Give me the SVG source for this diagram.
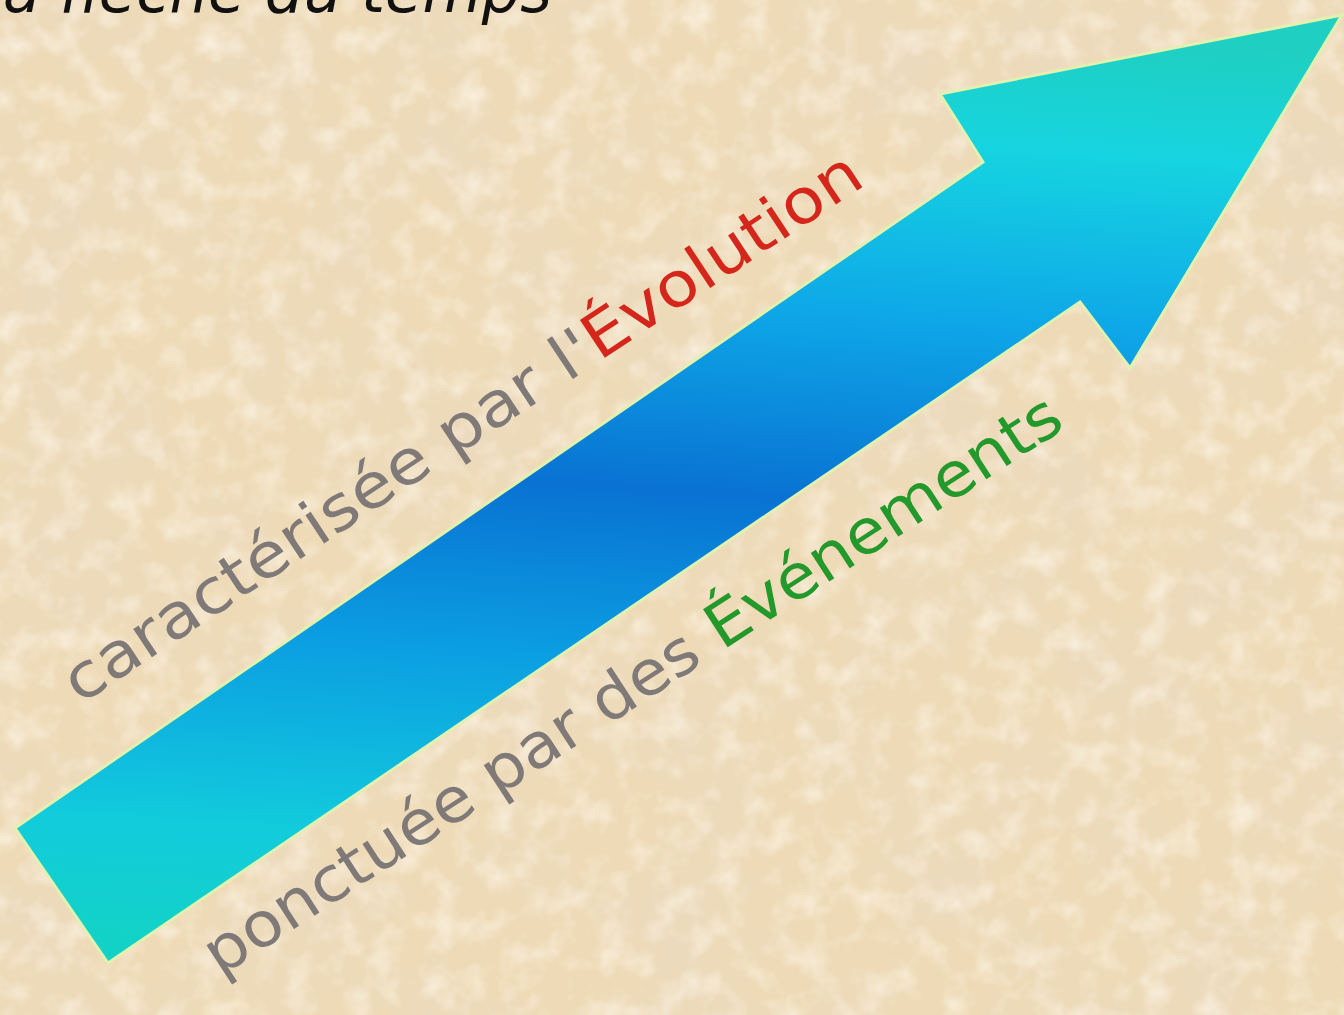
<svg xmlns="http://www.w3.org/2000/svg" width="1344" height="1015" viewBox="0 0 1344 1015">
  <defs>
    <filter id="tex" x="0" y="0" width="100%" height="100%" filterUnits="userSpaceOnUse">
      <feTurbulence type="fractalNoise" baseFrequency="0.008" numOctaves="4" seed="7" result="n"/>
      <feColorMatrix in="n" type="matrix" values="0 0 0 0 0.82  0 0 0 0 0.70  0 0 0 0 0.54  1.3 0 0 0 -0.5"/>
    </filter>
    <filter id="tex2" x="0" y="0" width="100%" height="100%" filterUnits="userSpaceOnUse">
      <feTurbulence type="fractalNoise" baseFrequency="0.035" numOctaves="3" seed="2" result="n"/>
      <feColorMatrix in="n" type="matrix" values="0 0 0 0 1  0 0 0 0 0.96  0 0 0 0 0.88  1.3 0 0 0 -0.58"/>
    </filter>
    <linearGradient id="arrowGrad" gradientUnits="userSpaceOnUse" x1="700" y1="15" x2="640" y2="965">
      <stop offset="0" stop-color="#1fd0c2"/>
      <stop offset="0.12" stop-color="#16d4e0"/>
      <stop offset="0.3" stop-color="#0ea8e8"/>
      <stop offset="0.5" stop-color="#0972d2"/>
      <stop offset="0.68" stop-color="#0b9ee2"/>
      <stop offset="0.88" stop-color="#12cbdc"/>
      <stop offset="1" stop-color="#12d2c8"/>
    </linearGradient>
    <style>
      .lbl { font-family: "DejaVu Sans", "Liberation Sans", sans-serif; font-size: 62px; }
      .grey { fill: #7f7a78; }
      .red { fill: #d5261c; }
      .green { fill: #22992a; }
      .title { font-family: "DejaVu Sans", "Liberation Sans", sans-serif; font-style: italic; font-size: 62px; fill: #111; }
    </style>
  </defs>

  <g id="background">
    <rect x="0" y="0" width="1344" height="1015" fill="#eedab6"/>
    <rect x="0" y="0" width="1344" height="1015" filter="url(#tex)"/>
    <rect x="0" y="0" width="1344" height="1015" filter="url(#tex2)"/>
  </g>

  <g id="title">
    <text class="title" x="-14" y="12" textLength="566" lengthAdjust="spacingAndGlyphs">la flèche du temps</text>
  </g>

  <g id="arrow">
    <polygon points="15,828 983,162 940,94 1342,15 1130,368 1080,302 108,963" fill="url(#arrowGrad)" stroke="#e2f0b0" stroke-width="3" stroke-linejoin="miter"/>
  </g>

  <g id="label-evolution">
    <text class="lbl" transform="translate(80,705) rotate(-33.5)" textLength="944" lengthAdjust="spacingAndGlyphs"><tspan class="grey">caractérisée par l'</tspan><tspan class="red">Évolution</tspan></text>
  </g>

  <g id="label-evenements">
    <text class="lbl" transform="translate(220,977) rotate(-33)" textLength="1010" lengthAdjust="spacingAndGlyphs"><tspan class="grey">ponctuée par des </tspan><tspan class="green">Événements</tspan></text>
  </g>

  <g id="connectors"/>
</svg>
